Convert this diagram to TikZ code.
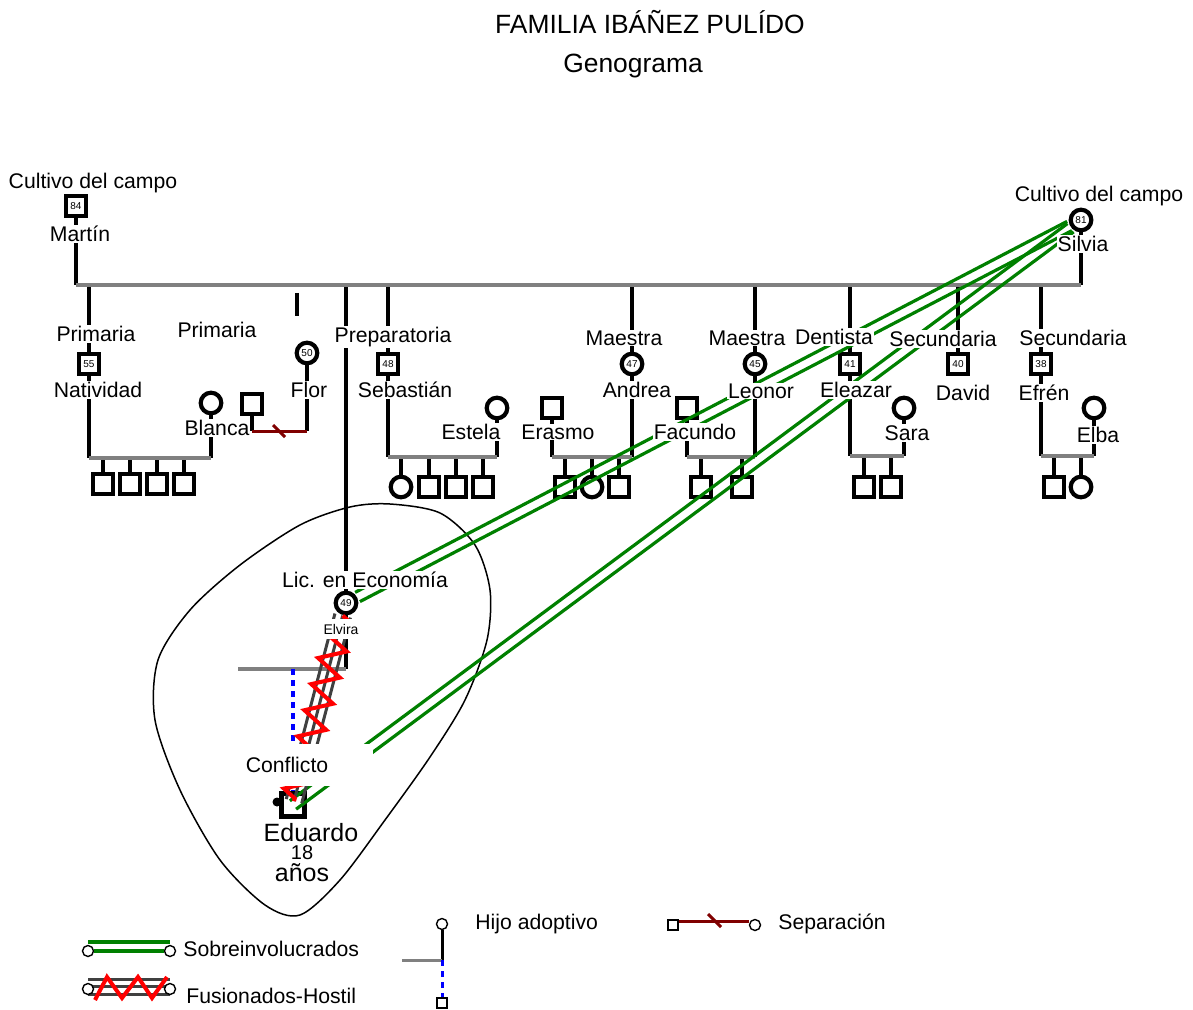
\documentclass[tikz,border=0pt]{standalone}
\usepackage{fontspec}
\setmainfont{Liberation Sans}
\usetikzlibrary{calc,decorations.pathmorphing}
\definecolor{verdeS}{RGB}{0,128,0}
\definecolor{granate}{RGB}{128,0,0}
\definecolor{grisF}{RGB}{64,64,64}
\definecolor{grisU}{RGB}{128,128,128}

\begin{document}
\begin{tikzpicture}[x=0.5pt, y=-0.5pt,
    hombre/.style={draw, line width=2.1pt, fill=white, minimum size=10.3pt, inner sep=0pt, font=\fontsize{5}{5}\selectfont},
    mujer/.style={hombre, circle},
    etq/.style={fill=white, inner sep=0.5pt, font=\fontsize{10.6}{12}\selectfont},
    ley/.style={anchor=west, inner sep=0pt, font=\fontsize{10.6}{12}\selectfont},
    linea/.style={line width=1.9pt},
    union/.style={grisU, line width=2pt},
    hermanos/.style={grisU, line width=1.8pt},
    adopcion/.style={blue, line width=1.8pt, dash pattern=on 3pt off 2.5pt},
    sobre/.style={verdeS, line width=1.6pt},
    fusion/.style={grisF, line width=1.5pt},
    hostil/.style={red, line width=2pt, decorate, decoration={zigzag, amplitude=6.5pt, segment length=13.5pt}},
    separa/.style={granate, line width=1.5pt},
    lcirc/.style={draw, circle, fill=white, line width=0.7pt, minimum size=5.5pt, inner sep=0pt},
    lcuad/.style={draw, fill=white, line width=0.7pt, minimum size=5pt, inner sep=0pt}]
    \useasboundingbox (0,0) rectangle (1193,1010);

    % 1. Título
    \node[font=\fontsize{13.2}{15}\selectfont] (tit) at (650,22) {FAMILIA IBÁÑEZ PULÍDO};
    \node[font=\fontsize{13.2}{15}\selectfont] (sub) at (633,66) {Genograma};

    % 2. Contorno alrededor de Elvira y Eduardo
    \draw[line width=0.75pt] plot[smooth cycle] coordinates {(390,504) (440,513) (475,545) (490,590) (487,640) (465,700) (430,757) (385,820) (340,880) (300,915) (265,905) (220,860) (180,790) (155,720) (158,660) (190,610) (240,565) (300,525) (350,507)};

    % 3. Personas
    \node[hombre] (martin) at (76,206) {84};
    \node[mujer] (silvia) at (1081,220) {81};
    \node[hombre] (nativ) at (89,364) {55};
    \node[mujer] (blanca) at (211,403) {};
    \node[mujer] (flor) at (307,353) {50};
    \node[hombre] (exflor) at (252,404) {};
    \node[mujer] (elvira) at (346,603) {49};
    \node[hombre, minimum size=11.5pt] (edu) at (293,805) {};
    \node[circle, fill, inner sep=0pt, minimum size=4.5pt] (punto) at (277,802) {};
    \node[hombre] (sebas) at (388,364) {48};
    \node[mujer] (estela) at (497,408) {};
    \node[hombre] (erasmo) at (552,408) {};
    \node[mujer] (andrea) at (632,364) {47};
    \node[hombre] (facundo) at (687,408) {};
    \node[mujer] (leonor) at (755,364) {45};
    \node[hombre] (eleazar) at (850,364) {41};
    \node[mujer] (sara) at (904,408) {};
    \node[hombre] (david) at (958,364) {40};
    \node[hombre] (efren) at (1041,364) {38};
    \node[mujer] (elba) at (1094,408) {};

    % 4. Pareja principal e hijos
    \coordinate (uL) at (76,285);
    \coordinate (uR) at (1081,285);
    \draw[linea] (martin) -- (uL);
    \draw[linea] (silvia) -- (uR);
    \foreach \p in {nativ,elvira,sebas,andrea,leonor,eleazar,david,efren}
        \draw[linea] (\p) -- (\p |- uL);
    \draw[union] (uL) -- (uR);
    \coordinate (tocA) at (297,293);
    \coordinate (tocB) at (297,316);
    \draw[linea] (tocA) -- (tocB);

    % Natividad y Blanca
    \coordinate (sibA) at (89,458);
    \draw[linea] (nativ) -- (nativ |- sibA);
    \draw[linea] (blanca) -- (blanca |- sibA);
    \foreach \x [count=\i] in {103,130,157,184} {
        \node[hombre] (hA\i) at (\x,484) {};
        \draw[linea] (hA\i) -- (hA\i |- sibA);
    }
    \draw[hermanos] (nativ |- sibA) -- (blanca |- sibA);

    % Flor, separada
    \coordinate (sepF) at (307,431);
    \draw[linea] (exflor) -- (exflor |- sepF);
    \draw[linea] (flor) -- (sepF);
    \draw[separa] (exflor |- sepF) -- (sepF);
    \draw[separa] ($(sepF)+(-34,-6)$) -- ++(12,12);

    % Sebastián y Estela
    \coordinate (sibS) at (388,457);
    \draw[linea] (sebas) -- (sebas |- sibS);
    \draw[linea] (estela) -- (estela |- sibS);
    \foreach \x/\t [count=\i] in {401/mujer,429/hombre,456/hombre,483/hombre} {
        \node[\t] (hS\i) at (\x,487) {};
        \draw[linea] (hS\i) -- (hS\i |- sibS);
    }
    \draw[hermanos] (sebas |- sibS) -- (estela |- sibS);

    % Erasmo y Andrea
    \coordinate (sibR) at (552,457);
    \draw[linea] (erasmo) -- (erasmo |- sibR);
    \draw[linea] (andrea) -- (andrea |- sibR);
    \foreach \x/\t [count=\i] in {565/hombre,592/mujer,619/hombre} {
        \node[\t] (hR\i) at (\x,487) {};
        \draw[linea] (hR\i) -- (hR\i |- sibR);
    }
    \draw[hermanos] (erasmo |- sibR) -- (andrea |- sibR);

    % Facundo y Leonor
    \coordinate (sibF) at (687,457);
    \draw[linea] (facundo) -- (facundo |- sibF);
    \draw[linea] (leonor) -- (leonor |- sibF);
    \foreach \x/\t [count=\i] in {701/hombre,742/hombre} {
        \node[\t] (hF\i) at (\x,487) {};
        \draw[linea] (hF\i) -- (hF\i |- sibF);
    }
    \draw[hermanos] (facundo |- sibF) -- (leonor |- sibF);

    % Eleazar y Sara
    \coordinate (sibL) at (850,456);
    \draw[linea] (eleazar) -- (eleazar |- sibL);
    \draw[linea] (sara) -- (sara |- sibL);
    \foreach \x/\t [count=\i] in {864/hombre,891/hombre} {
        \node[\t] (hL\i) at (\x,487) {};
        \draw[linea] (hL\i) -- (hL\i |- sibL);
    }
    \draw[hermanos] (eleazar |- sibL) -- (sara |- sibL);

    % Efrén y Elba
    \coordinate (sibC) at (1041,456);
    \draw[linea] (efren) -- (efren |- sibC);
    \draw[linea] (elba) -- (elba |- sibC);
    \foreach \x/\t [count=\i] in {1054/hombre,1081/mujer} {
        \node[\t] (hC\i) at (\x,487) {};
        \draw[linea] (hC\i) -- (hC\i |- sibC);
    }
    \draw[hermanos] (efren |- sibC) -- (elba |- sibC);

    % Elvira y su hijo adoptivo
    \coordinate (sibE) at (347,669);
    \coordinate (sibE0) at (238,669);
    \draw[linea] (elvira) -- (elvira |- sibE);
    \draw[hermanos] (sibE0) -- (elvira |- sibE);
    \draw[adopcion] (edu |- sibE) -- (edu);

    % 5. Relaciones: sobreinvolucrados y fusionados-hostil
    \coordinate (ga) at ($(silvia)!6.5pt!(elvira)$);
    \coordinate (gb) at ($(elvira)!6.5pt!(silvia)$);
    \draw[sobre] ($(ga)!2.6pt!90:(gb)$) -- ($(gb)!2.6pt!-90:(ga)$);
    \draw[sobre] ($(ga)!2.6pt!-90:(gb)$) -- ($(gb)!2.6pt!90:(ga)$);
    \coordinate (ha) at ($(silvia)!6.5pt!(edu)$);
    \coordinate (hb) at (edu.center);
    \draw[sobre] ($(ha)!2.6pt!90:(hb)$) -- ($(hb)!2.6pt!-90:(ha)$);
    \draw[sobre] ($(ha)!2.6pt!-90:(hb)$) -- ($(hb)!2.6pt!90:(ha)$);

    \coordinate (fa) at ($(elvira)!6.5pt!(edu)$);
    \coordinate (fb) at ($(edu)!2pt!(elvira)$);
    \draw[fusion] (fa) -- (fb);
    \draw[fusion] ($(fa)!4pt!90:(fb)$) -- ($(fb)!4pt!-90:(fa)$);
    \draw[fusion] ($(fa)!4pt!-90:(fb)$) -- ($(fb)!4pt!90:(fa)$);
    \draw[hostil] (fa) -- (fb);

    % 6. Etiquetas
    \node[etq] (oMart) at (93,183) {Cultivo del campo};
    \node[etq] (nMart) at (80,234) {Martín};
    \node[etq] (oSilv) at (1099,196) {Cultivo del campo};
    \node[etq] (nSilv) at (1083,244) {Silvia};
    \node[etq] (oNat) at (96,334) {Primaria};
    \node[etq] (nNat) at (98,390) {Natividad};
    \node[etq] (nBla) at (217,428) {Blanca};
    \node[etq] (oFlor) at (217,330) {Primaria};
    \node[etq] (nFlor) at (309,390) {Flor};
    \node[etq] (oElv) at (365,580) {Lic. en Economía};
    \node[fill=white, inner xsep=2pt, inner ysep=2.5pt, font=\fontsize{7}{8}\selectfont] (nElv) at (341,629) {Elvira};
    \node[etq] (oSeb) at (393,337) {Preparatoria};
    \node[etq] (nSeb) at (405,390) {Sebastián};
    \node[etq] (nEst) at (471,432) {Estela};
    \node[etq] (nEra) at (558,432) {Erasmo};
    \node[etq] (oAnd) at (624,338) {Maestra};
    \node[etq] (nAnd) at (637,390) {Andrea};
    \node[etq] (nFac) at (695,432) {Facundo};
    \node[etq] (oLeo) at (747,338) {Maestra};
    \node[etq] (nLeo) at (761,391) {Leonor};
    \node[etq] (oEle) at (834,337) {Dentista};
    \node[etq] (nEle) at (856,390) {Eleazar};
    \node[etq] (nSar) at (907,433) {Sara};
    \node[etq] (oDav) at (943,339) {Secundaria};
    \node[etq] (nDav) at (963,393) {David};
    \node[etq] (oEfr) at (1073,338) {Secundaria};
    \node[etq] (nEfr) at (1044,393) {Efrén};
    \node[etq] (nElb) at (1098,435) {Elba};
    \node[etq, minimum width=86pt, minimum height=21pt] (conf) at (287,765) {Conflicto};
    \node[font=\fontsize{12.5}{14}\selectfont] (nEdu) at (311,833) {Eduardo};
    \node[font=\fontsize{10}{12}\selectfont] (eEdu) at (302,853) {18};
    \node[font=\fontsize{12.5}{14}\selectfont] (aEdu) at (302,873) {años};

    % 7. Leyenda
    \node[lcirc] (l1a) at (88,951) {};
    \node[lcirc] (l1b) at (170,951) {};
    \draw[sobre] ($(l1a)+(0,-9)$) -- ($(l1b)+(0,-9)$);
    \draw[sobre] (l1a) -- (l1b);
    \node[ley] (t1) at (183,949) {Sobreinvolucrados};

    \coordinate (l2c) at (129,986);
    \draw[fusion] ($(l2c)+(-41,-7)$) -- ++(82,0);
    \draw[fusion] ($(l2c)+(-41,0)$) -- ++(82,0);
    \draw[fusion] ($(l2c)+(-41,8)$) -- ++(82,0);
    \node[lcirc] (l2a) at (88,989) {};
    \node[lcirc] (l2b) at (170,989) {};
    \draw[red, line width=2pt] (95,1000) -- ++(12,-23) -- ++(15,21) -- ++(16,-21) -- ++(14,21) -- ++(15,-21);
    \node[ley] (t2) at (186,996) {Fusionados-Hostil};

    \node[lcirc] (l3a) at (442,924) {};
    \node[lcuad] (l3b) at (442,1003) {};
    \coordinate (l3c) at (442,960);
    \coordinate (l3d) at (402,960);
    \draw[line width=1.5pt] (l3a) -- (l3c);
    \draw[grisU, line width=1.5pt] (l3d) -- (l3c);
    \draw[adopcion, line width=1.5pt] (l3c) -- (l3b);
    \node[ley] (t3) at (475,924) {Hijo adoptivo};

    \node[lcuad] (l4a) at (673,925) {};
    \node[lcirc] (l4b) at (755,925) {};
    \coordinate (l4c) at (714,921);
    \draw[separa] (l4a.north east |- l4c) -- (l4b.west |- l4c);
    \draw[separa] ($(l4c)+(-6,-7)$) -- ++(13,13);
    \node[ley] (t4) at (778,924) {Separación};
\end{tikzpicture}
\end{document}
